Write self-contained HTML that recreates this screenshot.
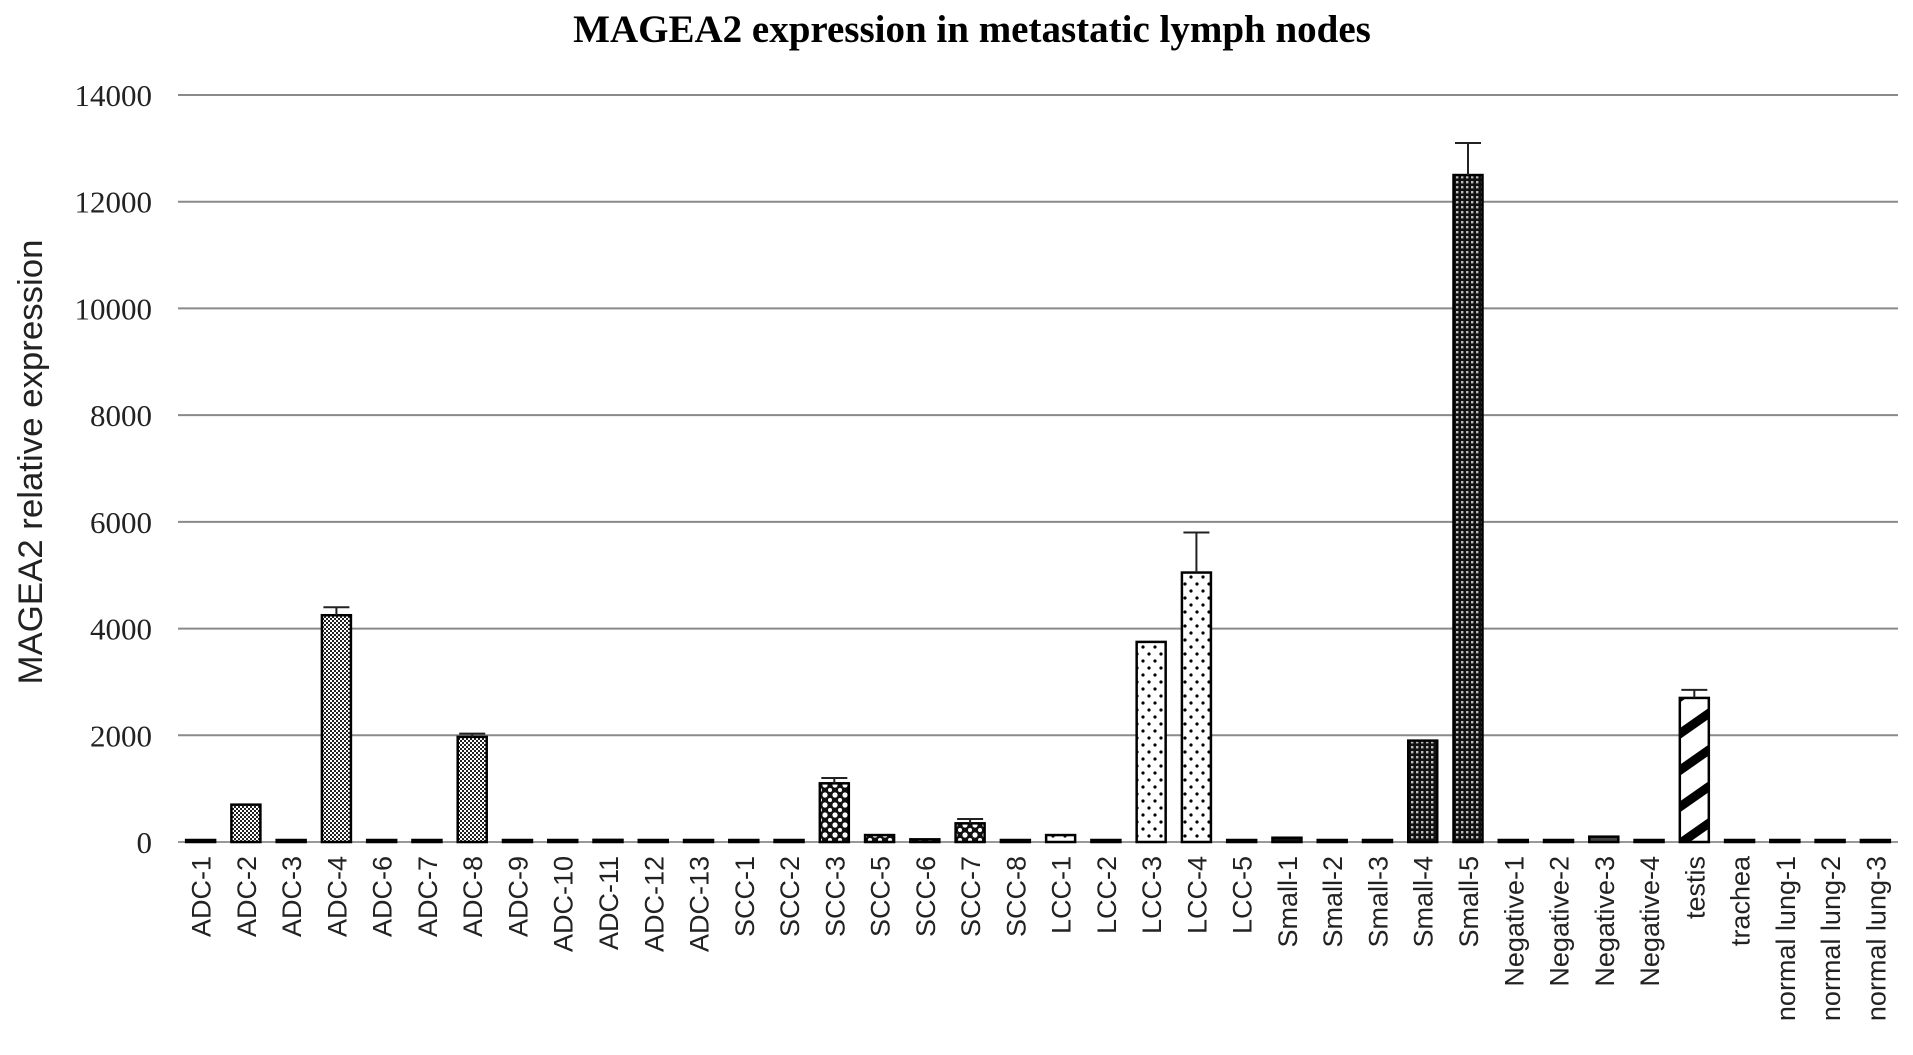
<!DOCTYPE html>
<html><head><meta charset="utf-8"><style>
html,body{margin:0;padding:0;background:#fff;}
svg{display:block;}
</style></head><body>
<svg id="chart" width="1913" height="1055" xmlns="http://www.w3.org/2000/svg">
<defs>
<pattern id="pADC" width="4" height="4" patternUnits="userSpaceOnUse"><rect width="4" height="4" fill="#fff"/><rect width="2" height="2" fill="#222"/><rect x="2" y="2" width="2" height="2" fill="#222"/></pattern>
<pattern id="pSCC" width="10" height="10" patternUnits="userSpaceOnUse"><rect width="10" height="10" fill="#111"/><circle cx="5" cy="5" r="2.6" fill="#fff"/><circle cx="0" cy="0" r="2" fill="#fff"/><circle cx="10" cy="10" r="2" fill="#fff"/><circle cx="10" cy="0" r="2" fill="#fff"/><circle cx="0" cy="10" r="2" fill="#fff"/></pattern>
<pattern id="pLCC" width="12" height="14" patternUnits="userSpaceOnUse"><rect width="12" height="14" fill="#fff"/><circle cx="3" cy="3" r="1.6" fill="#000"/><circle cx="9" cy="10" r="1.6" fill="#000"/></pattern>
<pattern id="pSmall" width="5" height="5" patternUnits="userSpaceOnUse"><rect width="5" height="5" fill="#111"/><rect x="1" y="1" width="2.4" height="2.4" fill="#bbb"/></pattern>
<pattern id="pTestis" width="30" height="30" patternUnits="userSpaceOnUse" patternTransform="rotate(-35)"><rect width="30" height="30" fill="#fff"/><rect width="30" height="9" fill="#000"/></pattern>
<pattern id="pOther" width="4" height="4" patternUnits="userSpaceOnUse"><rect width="4" height="4" fill="#444"/></pattern>
</defs>
<text x="972" y="42" text-anchor="middle" font-family="Liberation Serif, serif" font-weight="bold" font-size="39">MAGEA2 expression in metastatic lymph nodes</text>
<text transform="translate(42,462) rotate(-90)" text-anchor="middle" font-family="Liberation Sans Narrow, Liberation Sans, sans-serif" font-size="34" fill="#222" textLength="445" lengthAdjust="spacingAndGlyphs">MAGEA2  relative expression</text>
<g id="grid"></g><g id="bars"></g><g id="labels"></g>
</svg>
<script>
const categories=["ADC-1","ADC-2","ADC-3","ADC-4","ADC-6","ADC-7","ADC-8","ADC-9","ADC-10","ADC-11","ADC-12","ADC-13","SCC-1","SCC-2","SCC-3","SCC-5","SCC-6","SCC-7","SCC-8","LCC-1","LCC-2","LCC-3","LCC-4","LCC-5","Small-1","Small-2","Small-3","Small-4","Small-5","Negative-1","Negative-2","Negative-3","Negative-4","testis","trachea","normal lung-1","normal lung-2","normal lung-3"];
const values=[10,700,10,4250,10,10,1970,10,30,40,10,10,10,10,1100,130,50,350,10,130,10,3750,5050,10,80,10,10,1900,12500,10,10,100,20,2700,10,10,10,10];
const errors=[0,0,0,150,0,0,60,0,0,0,0,0,0,0,100,0,0,80,0,0,0,0,750,0,0,0,0,0,600,0,0,0,0,150,0,0,0,0];
const groups=["ADC","ADC","ADC","ADC","ADC","ADC","ADC","ADC","ADC","ADC","ADC","ADC","SCC","SCC","SCC","SCC","SCC","SCC","SCC","LCC","LCC","LCC","LCC","LCC","Small","Small","Small","Small","Small","Other","Other","Other","Other","Testis","Other","Other","Other","Other"];
const yTicks=[0,2000,4000,6000,8000,10000,12000,14000];
const NS="http://www.w3.org/2000/svg";
const x0=178,x1=1898,y0=842,yTop=95,yMax=14000;
const bw=(x1-x0)/categories.length;
function yS(v){return y0-(v/yMax)*(y0-yTop);}
function xC(i){return x0+bw*(i+0.5);}
function mk(t,a,p){const e=document.createElementNS(NS,t);for(const k in a)e.setAttribute(k,a[k]);p.appendChild(e);return e;}
const grid=document.getElementById('grid'),bars=document.getElementById('bars'),labels=document.getElementById('labels');
yTicks.forEach(t=>{
  const l=mk('line',{x1:x0,x2:x1,y1:yS(t),y2:yS(t),stroke:t===0?'#999':'#8a8a8a','stroke-width':2},grid);
  
  
  const tx=mk('text',{x:152,y:yS(t)+11,'text-anchor':'end','font-family':'Liberation Serif, serif','font-size':31,fill:'#222'},grid);
  tx.textContent=t;
  
  
});
categories.forEach((c,i)=>{
  const v=values[i],w=29,cx=xC(i);
  const h=Math.max(y0-yS(v),2);
  const r=mk('rect',{x:cx-w/2,y:y0-h,width:w,height:h,fill:'url(#p'+groups[i]+')',stroke:'#000','stroke-width':2.5},bars);
  
  
  if(errors[i]>0){
    const ye=yS(v+errors[i]);
    const g=mk('path',{d:`M${cx} ${yS(v)}V${ye}M${cx-13} ${ye}H${cx+13}`,stroke:'#222','stroke-width':2,fill:'none'},bars);
    
    
  }
  const t=mk('text',{transform:`translate(${cx+10},${y0+14}) rotate(-90)`,'text-anchor':'end','font-family':'Liberation Sans Narrow, Liberation Sans, sans-serif','font-size':27,fill:'#222'},labels);
  t.textContent=c;
  
  
});
</script>
</body></html>
